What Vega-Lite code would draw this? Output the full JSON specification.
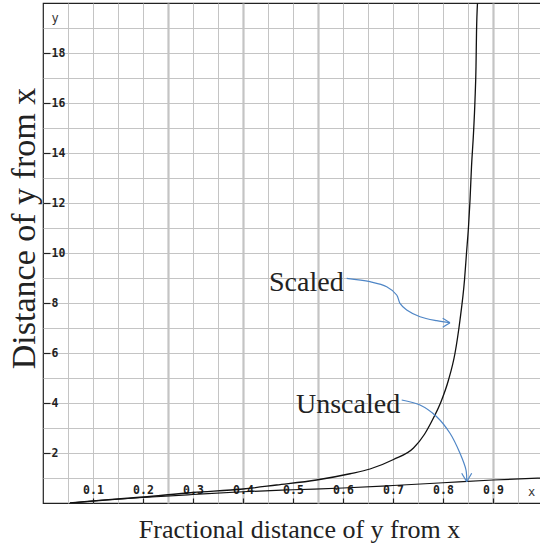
{
  "$schema": "https://vega.github.io/schema/vega-lite/v6.json",
  "width": 500,
  "height": 500,
  "autosize": {"type": "none"},
  "padding": {"left": 43, "top": 3, "right": 0, "bottom": 43},
  "background": "white",
  "config": {
    "view": {"stroke": "#222", "strokeWidth": 1.2}
  },
  "datasets": {
    "scaled": [
      {"x": 0.054, "y": 0}, {"x": 0.1, "y": 0.08}, {"x": 0.2, "y": 0.24}, {"x": 0.3, "y": 0.42},
      {"x": 0.4, "y": 0.56}, {"x": 0.467, "y": 0.72}, {"x": 0.547, "y": 0.92}, {"x": 0.614, "y": 1.17},
      {"x": 0.654, "y": 1.36}, {"x": 0.701, "y": 1.74}, {"x": 0.741, "y": 2.2}, {"x": 0.763, "y": 2.75},
      {"x": 0.777, "y": 3.25}, {"x": 0.797, "y": 4.1}, {"x": 0.811, "y": 4.92}, {"x": 0.824, "y": 5.99},
      {"x": 0.834, "y": 7.32}, {"x": 0.843, "y": 8.92}, {"x": 0.847, "y": 9.99}, {"x": 0.851, "y": 11.05},
      {"x": 0.854, "y": 12.1}, {"x": 0.857, "y": 13.45}, {"x": 0.861, "y": 14.79}, {"x": 0.864, "y": 16.12},
      {"x": 0.866, "y": 17.45}, {"x": 0.867, "y": 18.79}, {"x": 0.869, "y": 20}
    ],
    "unscaled": [
      {"x": 0.054, "y": 0}, {"x": 0.1, "y": 0.08}, {"x": 0.2, "y": 0.22}, {"x": 0.3, "y": 0.34},
      {"x": 0.4, "y": 0.45}, {"x": 0.5, "y": 0.53}, {"x": 0.6, "y": 0.6}, {"x": 0.7, "y": 0.7},
      {"x": 0.8, "y": 0.81}, {"x": 0.9, "y": 0.92}, {"x": 1.0, "y": 1.0}
    ],
    "arrows": [
      {"seg": "s", "i": 0, "x": 0.6074, "y": 8.988},
      {"seg": "s", "i": 1, "x": 0.654, "y": 8.852},
      {"seg": "s", "i": 2, "x": 0.6874, "y": 8.652},
      {"seg": "s", "i": 3, "x": 0.7074, "y": 8.32},
      {"seg": "s", "i": 4, "x": 0.714, "y": 7.988},
      {"seg": "s", "i": 5, "x": 0.7274, "y": 7.72},
      {"seg": "s", "i": 6, "x": 0.754, "y": 7.452},
      {"seg": "s", "i": 7, "x": 0.7874, "y": 7.292},
      {"seg": "s", "i": 8, "x": 0.814, "y": 7.212},
      {"seg": "s1", "i": 0, "x": 0.7994, "y": 7.388},
      {"seg": "s1", "i": 1, "x": 0.814, "y": 7.212},
      {"seg": "s2", "i": 0, "x": 0.7994, "y": 7.028},
      {"seg": "s2", "i": 1, "x": 0.814, "y": 7.212},
      {"seg": "u", "i": 0, "x": 0.7174, "y": 4.12},
      {"seg": "u", "i": 1, "x": 0.754, "y": 3.92},
      {"seg": "u", "i": 2, "x": 0.7874, "y": 3.452},
      {"seg": "u", "i": 3, "x": 0.814, "y": 2.788},
      {"seg": "u", "i": 4, "x": 0.834, "y": 1.988},
      {"seg": "u", "i": 5, "x": 0.846, "y": 1.32},
      {"seg": "u", "i": 6, "x": 0.8474, "y": 0.852},
      {"seg": "u1", "i": 0, "x": 0.8374, "y": 1.188},
      {"seg": "u1", "i": 1, "x": 0.8474, "y": 0.852},
      {"seg": "u2", "i": 0, "x": 0.8574, "y": 1.188},
      {"seg": "u2", "i": 1, "x": 0.8474, "y": 0.852}
    ],
    "notes": [
      {"x": 0.452, "y": 8.49, "label": "Scaled"},
      {"x": 0.506, "y": 3.61, "label": "Unscaled"}
    ],
    "varlabels": [
      {"x": 0.024, "y": 19.4, "label": "y"},
      {"x": 0.977, "y": 0.46, "label": "x"}
    ]
  },
  "encoding": {
    "x": {
      "field": "x",
      "type": "quantitative",
      "scale": {"domain": [0, 1], "nice": false, "zero": false},
      "axis": {
        "values": [0.05, 0.1, 0.15, 0.2, 0.25, 0.3, 0.35, 0.4, 0.45, 0.5, 0.55, 0.6, 0.65, 0.7, 0.75, 0.8, 0.85, 0.9, 0.95],
        "grid": true,
        "gridColor": "#c4c4c4",
        "gridWidth": {"condition": {"test": "abs(datum.value-0.25)<0.001 || abs(datum.value-0.4)<0.001 || abs(datum.value-0.55)<0.001 || abs(datum.value-0.9)<0.001", "value": 2.2}, "value": 1},
        "domain": false,
        "ticks": true,
        "tickSize": -5,
        "tickColor": "#222",
        "tickWidth": 1.2,
        "tickOpacity": {"condition": {"test": "abs(datum.value*10 - round(datum.value*10))<0.001", "value": 1}, "value": 0},
        "labelExpr": "abs(datum.value*10 - round(datum.value*10))<0.001 ? format(datum.value, '.1f') : ''",
        "labelPadding": -8,
        "labelBaseline": "middle",
        "labelAlign": "center",
        "labelFont": "DejaVu Sans Mono",
        "labelFontSize": 11.5,
        "labelFontWeight": "bold",
        "labelColor": "#222",
        "labelFlush": false,
        "labelOverlap": false,
        "title": "Fractional distance of y from x",
        "titleFont": "Liberation Serif",
        "titleFontSize": 26,
        "titleFontWeight": "normal",
        "titleColor": "#222",
        "titleX": 256,
        "titleY": 34,
        "titleBaseline": "alphabetic",
        "titleAlign": "center"
      }
    },
    "y": {
      "field": "y",
      "type": "quantitative",
      "scale": {"domain": [0, 20], "nice": false, "zero": false},
      "axis": {
        "values": [1, 2, 3, 4, 5, 6, 7, 8, 9, 10, 11, 12, 13, 14, 15, 16, 17, 18, 19],
        "grid": true,
        "gridColor": "#c4c4c4",
        "gridWidth": 1,
        "domain": false,
        "ticks": true,
        "tickSize": -7,
        "tickColor": "#222",
        "tickWidth": 1.2,
        "tickOpacity": {"condition": {"test": "datum.value % 2 == 0", "value": 1}, "value": 0},
        "labelExpr": "datum.value % 2 == 0 ? format(datum.value, 'd') : ''",
        "labelPadding": -1,
        "labelBaseline": "middle",
        "labelAlign": "left",
        "labelFont": "DejaVu Sans Mono",
        "labelFontSize": 11.5,
        "labelFontWeight": "bold",
        "labelColor": "#222",
        "labelFlush": false,
        "labelOverlap": false,
        "title": "Distance of y from x",
        "titleFont": "Liberation Serif",
        "titleFontSize": 34,
        "titleFontWeight": "normal",
        "titleColor": "#222",
        "titleAngle": 270,
        "titleX": -9,
        "titleY": 225,
        "titleBaseline": "alphabetic",
        "titleAlign": "center"
      }
    }
  },
  "layer": [
    {
      "data": {"name": "unscaled"},
      "mark": {"type": "line", "color": "#111", "strokeWidth": 1.2, "interpolate": "monotone", "clip": true}
    },
    {
      "data": {"name": "scaled"},
      "mark": {"type": "line", "color": "#111", "strokeWidth": 1.3, "interpolate": "monotone", "clip": true}
    },
    {
      "data": {"name": "arrows"},
      "mark": {"type": "line", "color": "#4f86c6", "strokeWidth": 1.2, "interpolate": "catmull-rom"},
      "encoding": {
        "detail": {"field": "seg", "type": "nominal"},
        "order": {"field": "i", "type": "quantitative"}
      }
    },
    {
      "data": {"name": "notes"},
      "mark": {"type": "text", "align": "left", "baseline": "alphabetic", "font": "Liberation Serif", "fontSize": 28, "color": "#222"},
      "encoding": {"text": {"field": "label", "type": "nominal"}}
    },
    {
      "data": {"name": "varlabels"},
      "mark": {"type": "text", "align": "center", "baseline": "middle", "font": "DejaVu Sans Mono", "fontSize": 12, "color": "#333"},
      "encoding": {"text": {"field": "label", "type": "nominal"}}
    }
  ]
}
